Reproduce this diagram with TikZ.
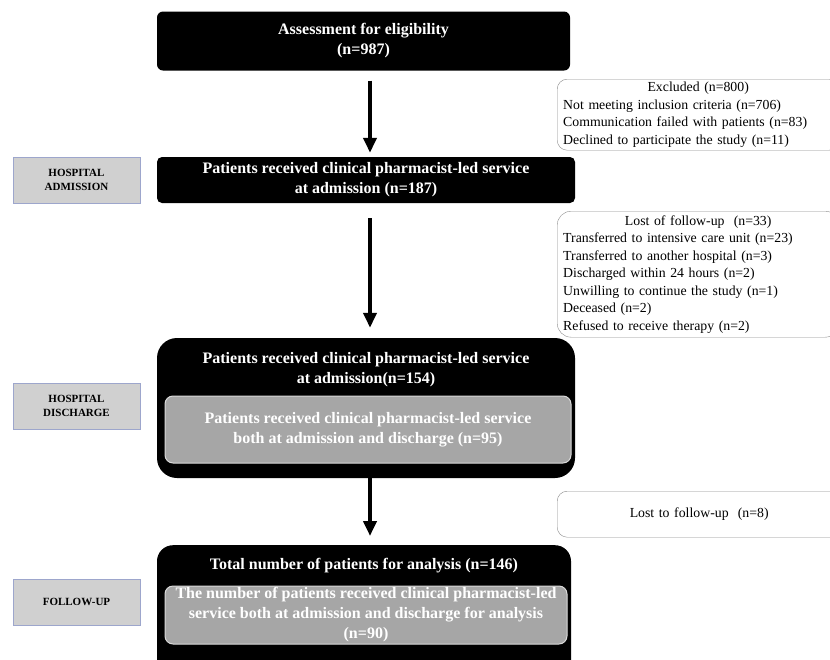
\documentclass[tikz,border=0pt]{standalone}
\usepackage{fontspec}
\setmainfont{Liberation Serif}
\usetikzlibrary{arrows.meta}
\definecolor{stagefill}{HTML}{D0D0D0}
\definecolor{stageline}{HTML}{9DA6CC}
\definecolor{subfill}{HTML}{A6A6A6}
\definecolor{subline}{HTML}{D9D9D9}

\begin{document}
\begin{tikzpicture}[x=1pt, y=-1pt, >={Triangle[length=15pt,width=13pt]},
	every node/.style={font=\fontsize{16}{20}\selectfont\bfseries, align=center},
	box/.style={fill=black, text=white, rounded corners=6pt, inner sep=0pt},
	subbox/.style={fill=subfill, draw=subline, line width=1pt, text=white, rounded corners=8pt, inner sep=0pt},
	sidebox/.style={draw=black!45, fill=white, rounded corners=10pt, align=left, inner xsep=6pt, inner ysep=1pt, text width=270pt, font=\fontsize{13.8}{17.5}\selectfont, anchor=north west},
	stage/.style={fill=stagefill, draw=stageline, minimum width=127pt, minimum height=46pt, font=\fontsize{11}{14}\selectfont\bfseries},
	flow/.style={->, line width=4pt}]
	\useasboundingbox (0,0) rectangle (830,659);
	% eligibility
	\node[box, minimum width=413pt, minimum height=59pt] (elig) at (363.5,41) {Assessment for eligibility\\(n=987)};
	\node[sidebox, minimum height=71pt] (excl) at (557,79) {\makebox[\linewidth]{Excluded (n=800)}\\Not meeting inclusion criteria (n=706)\\Communication failed with patients (n=83)\\Declined to participate the study (n=11)};
	% admission
	\node[stage] (sadm) at (76.5,180) {HOSPITAL\\ADMISSION};
	\node[box, minimum width=418pt, minimum height=46pt, rounded corners=5pt] (adm) at (366,180) {Patients received clinical pharmacist-led service\\at admission (n=187)};
	\node[sidebox, minimum height=126pt, rounded corners=14pt] (lost) at (557,211) {\makebox[\linewidth]{Lost of follow-up\ \ (n=33)}\\Transferred to intensive care unit (n=23)\\Transferred to another hospital (n=3)\\Discharged within 24 hours (n=2)\\Unwilling to continue the study (n=1)\\Deceased (n=2)\\Refused to receive therapy (n=2)};
	% discharge
	\node[stage] (sdis) at (76.5,406) {HOSPITAL\\DISCHARGE};
	\node[box, minimum width=418pt, minimum height=140pt, rounded corners=20pt] (dis) at (366,408) {};
	\node[text=white] (dishead) at (366,370) {Patients received clinical pharmacist-led service\\at admission(n=154)};
	\node[subbox, minimum width=406pt, minimum height=67pt] (disin) at (368,429.5) {Patients received clinical pharmacist-led service\\both at admission and discharge (n=95)};
	\node[sidebox, text width=272pt, minimum height=46pt, align=center] (lostb) at (557,491) {Lost to follow-up\ \ (n=8)};
	% follow-up
	\node[stage] (sfol) at (76.5,602) {FOLLOW-UP};
	\node[box, minimum width=414pt, minimum height=140pt, rounded corners=16pt, anchor=north] (fol) at (364,545) {};
	\node[text=white] (folhead) at (364,566) {Total number of patients for analysis (n=146)};
	\node[subbox, minimum width=402pt, minimum height=58pt] (folin) at (366,615) {The number of patients received clinical pharmacist-led\\service both at admission and discharge for analysis\\(n=90)};
	% arrows
	\draw[flow] ([xshift=6.5pt,yshift=-10pt]elig.south) -- ([xshift=4pt,yshift=4pt]adm.north);
	\draw[flow] ([xshift=4pt,yshift=-15pt]adm.south) -- ([xshift=4pt,yshift=10pt]dis.north);
	\draw[flow] ([xshift=4pt]dis.south) -- ([xshift=6pt,yshift=9pt]fol.north);
\end{tikzpicture}
\end{document}
